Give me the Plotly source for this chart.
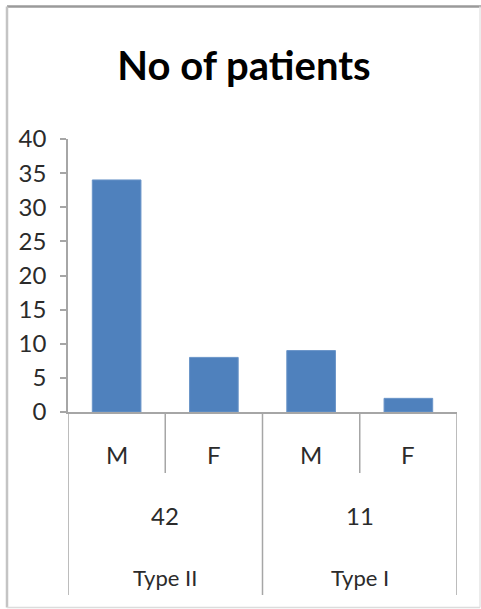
import plotly.graph_objects as go

# Patients by diabetes type and sex
group_names = ["Type II", "Type I"]
group_totals = [42, 11]
sexes = ["M", "F"]
patients = [34, 8, 9, 2]

y_ticks = [0, 5, 10, 15, 20, 25, 30, 35, 40]

n_sex = len(sexes)
x_pos = list(range(len(patients)))
sex_labels = [sexes[i % n_sex] for i in x_pos]

W, H = 481, 609
ML, MR, MT, MB = 68, 24, 139, 197
PW, PH = W - ML - MR, H - MT - MB


def px_x(px):
    """Horizontal page pixel -> paper coordinate."""
    return (px - ML) / PW


def px_y(py):
    """Vertical page pixel (from top) -> paper coordinate."""
    return (H - MB - py) / PH


FONT = "Lato"
TXT = "#2b2b2b"
LINE = "#a6a6a6"

fig = go.Figure(
    go.Bar(
        x=x_pos,
        y=patients,
        width=0.5,
        marker=dict(color="#4f81bd", line=dict(color="#6a94c8", width=1)),
        hoverinfo="skip",
    )
)

# bottom label rows below the axis
row_sex, row_total, row_group = px_y(455), px_y(515), px_y(577)
short_div, long_div = px_y(473), px_y(595)

annotations = []
for i, lab in enumerate(sex_labels):
    annotations.append(dict(x=i, y=row_sex, xref="x", yref="paper", text=lab,
                            showarrow=False, font=dict(family=FONT, size=24, color=TXT),
                            yanchor="middle"))
for g, (name, total) in enumerate(zip(group_names, group_totals)):
    cx = g * n_sex + (n_sex - 1) / 2
    annotations.append(dict(x=cx, y=row_total, xref="x", yref="paper", text=str(total),
                            showarrow=False, font=dict(family=FONT, size=24, color=TXT),
                            yanchor="middle"))
    annotations.append(dict(x=cx, y=row_group, xref="x", yref="paper", text=name,
                            showarrow=False, font=dict(family=FONT, size=22, color=TXT),
                            yanchor="middle"))

shapes = []
for k in range(len(patients) + 1):
    xb = k - 0.5
    y1 = long_div if k % n_sex == 0 else short_div
    shapes.append(dict(type="line", xref="x", yref="paper", x0=xb, x1=xb, y0=0, y1=y1,
                       line=dict(color=LINE, width=1.5)))

# outer chart frame: darker top edge, lighter sides
fx0, fx1 = px_x(7), px_x(480)
fy0, fy1 = px_y(607.5), px_y(6.5)
frame = [
    (fx0, fy1, fx1 + 0.01, fy1, "#9a9a9a", 2.5),
    (fx0, fy1, fx0, fy0, "#c4c4c4", 2.5),
    (fx1, fy1, fx1, fy0, "#e6e6e6", 1.5),
    (fx0, fy0, fx1, fy0, "#dcdcdc", 1.5),
]
for x0, y0, x1, y1, col, w in frame:
    shapes.append(dict(type="line", xref="paper", yref="paper", x0=x0, y0=y0,
                       x1=x1, y1=y1, line=dict(color=col, width=w), layer="below"))

fig.update_layout(
    width=W,
    height=H,
    margin=dict(l=ML, r=MR, t=MT, b=MB),
    paper_bgcolor="white",
    plot_bgcolor="white",
    showlegend=False,
    title=dict(text="<b>No of patients</b>", x=244 / W, xanchor="center",
               y=1 - 66 / H, yanchor="middle",
               font=dict(family=FONT, size=40, color="black")),
    xaxis=dict(range=[-0.5, len(patients) - 0.5], showticklabels=False, ticks="",
               showgrid=False, zeroline=False, showline=True, linecolor=LINE,
               linewidth=1.5, fixedrange=True),
    yaxis=dict(range=[0, 40], tickvals=y_ticks, ticks="outside", ticklen=6,
               tickcolor=LINE, tickwidth=1.5, showline=True, linecolor=LINE,
               linewidth=1.5, showgrid=False, zeroline=False,
               tickfont=dict(family=FONT, size=24, color=TXT),
               ticklabelstandoff=9, fixedrange=True),
    annotations=annotations,
    shapes=shapes,
)

fig.write_html("out.html")
